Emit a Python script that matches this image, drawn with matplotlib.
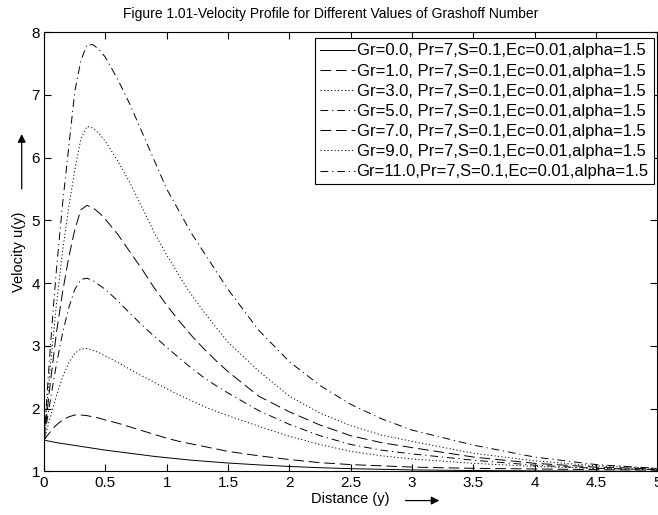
import matplotlib
matplotlib.use("Agg")
import matplotlib.pyplot as plt

plt.rcParams['font.family'] = ['Liberation Sans', 'DejaVu Sans']

# distance values (y)
dist = [0, 0.025, 0.05, 0.075, 0.1, 0.15, 0.2, 0.25, 0.3, 0.35, 0.4, 0.45, 0.5,
        0.6, 0.7, 0.8, 0.9, 1.0, 1.1, 1.2, 1.3, 1.4, 1.5, 1.75, 2.0, 2.25, 2.5,
        2.75, 3.0, 3.5, 4.0, 4.5, 5.0]

u_gr0 = [1.5, 1.49, 1.48, 1.47, 1.46, 1.445, 1.43, 1.415, 1.40, 1.385, 1.37, 1.355, 1.34,
         1.315, 1.29, 1.265, 1.24, 1.22, 1.2, 1.18, 1.165, 1.15, 1.135, 1.105, 1.08, 1.06, 1.045,
         1.035, 1.025, 1.015, 1.01, 1.005, 1.0]
u_gr1 = [1.5, 1.57, 1.63, 1.69, 1.74, 1.82, 1.87, 1.9, 1.9, 1.89, 1.87, 1.85, 1.82,
         1.77, 1.71, 1.65, 1.59, 1.53, 1.48, 1.44, 1.4, 1.36, 1.32, 1.25, 1.19, 1.14, 1.11,
         1.09, 1.07, 1.05, 1.04, 1.03, 1.02]
u_gr3 = [1.5, 1.68, 1.86, 2.03, 2.2, 2.5, 2.73, 2.88, 2.95, 2.96, 2.93, 2.89, 2.84,
         2.74, 2.63, 2.52, 2.42, 2.32, 2.22, 2.13, 2.04, 1.96, 1.89, 1.72, 1.56, 1.43, 1.32,
         1.25, 1.2, 1.13, 1.08, 1.05, 1.03]
u_gr5 = [1.5, 1.82, 2.12, 2.42, 2.7, 3.2, 3.6, 3.9, 4.06, 4.08, 4.04, 3.97, 3.9,
         3.72, 3.52, 3.33, 3.15, 2.98, 2.81, 2.65, 2.5, 2.37, 2.25, 1.97, 1.75, 1.57, 1.43,
         1.34, 1.28, 1.18, 1.1, 1.05, 1.03]
u_gr7 = [1.5, 1.95, 2.4, 2.8, 3.2, 3.85, 4.4, 4.85, 5.17, 5.24, 5.2, 5.12, 5.02,
         4.78, 4.5, 4.22, 3.92, 3.65, 3.4, 3.17, 2.96, 2.77, 2.59, 2.2, 1.95, 1.74, 1.57,
         1.46, 1.38, 1.23, 1.13, 1.07, 1.04]
u_gr9 = [1.5, 2.1, 2.65, 3.15, 3.65, 4.5, 5.2, 5.8, 6.3, 6.5, 6.47, 6.38, 6.26,
         5.95, 5.6, 5.2, 4.8, 4.45, 4.12, 3.82, 3.55, 3.3, 3.06, 2.6, 2.2, 1.93, 1.73,
         1.58, 1.48, 1.29, 1.17, 1.09, 1.05]
u_gr11 = [1.5, 2.25, 2.95, 3.6, 4.2, 5.25, 6.15, 7.05, 7.55, 7.8, 7.8, 7.72, 7.6,
          7.25, 6.85, 6.4, 5.95, 5.5, 5.15, 4.8, 4.5, 4.2, 3.9, 3.25, 2.75, 2.37, 2.07,
          1.84, 1.66, 1.42, 1.23, 1.11, 1.05]

labels = ['Gr=0.0, Pr=7,S=0.1,Ec=0.01,alpha=1.5',
          'Gr=1.0, Pr=7,S=0.1,Ec=0.01,alpha=1.5',
          'Gr=3.0, Pr=7,S=0.1,Ec=0.01,alpha=1.5',
          'Gr=5.0, Pr=7,S=0.1,Ec=0.01,alpha=1.5',
          'Gr=7.0, Pr=7,S=0.1,Ec=0.01,alpha=1.5',
          'Gr=9.0, Pr=7,S=0.1,Ec=0.01,alpha=1.5',
          'Gr=11.0,Pr=7,S=0.1,Ec=0.01,alpha=1.5']

series = [u_gr0, u_gr1, u_gr3, u_gr5, u_gr7, u_gr9, u_gr11]
styles = ['-', (0, (11, 5)), (0, (1.2, 2.4)), (0, (8, 4, 1.2, 4)),
          (0, (11, 5)), (0, (1.2, 2.4)), (0, (8, 4, 1.2, 4))]

fig = plt.figure(figsize=(6.58, 5.15), dpi=100)
ax = fig.add_axes([0.067, 0.0845, 0.932, 0.853])

for u, ls, lab in zip(series, styles, labels):
    ax.plot(dist, u, color='black', linestyle=ls, linewidth=0.7, label=lab)

ax.set_xlim(0, 5)
ax.set_ylim(1, 8)
ax.set_xticks([0, 0.5, 1, 1.5, 2, 2.5, 3, 3.5, 4, 4.5, 5])
ax.set_xticklabels(['0', '0.5', '1', '1.5', '2', '2.5', '3', '3.5', '4', '4.5', '5'])
ax.tick_params(direction='in', top=True, right=True, labelsize=11, length=5, pad=3)
for sp in ax.spines.values():
    sp.set_linewidth(0.8)

fig.text(0.503, 1 - 14 / 515, 'Figure 1.01-Velocity Profile for Different Values of Grashoff Number',
         fontsize=10, ha='center', va='center')
ax.set_xlabel('Distance (y)', fontsize=10.5, labelpad=2)
ax.set_ylabel('Velocity u(y)', fontsize=10.5, labelpad=4)

leg = ax.legend(loc='upper right', bbox_to_anchor=(0.994, 0.986), borderaxespad=0,
                fontsize=12, handlelength=2.1, handletextpad=0.1, labelspacing=0.31,
                borderpad=0.3, fancybox=False, framealpha=1, edgecolor='black')
leg.get_frame().set_linewidth(0.8)

# arrows next to the axis labels
ax.annotate('', xy=(0.672, 0.028), xytext=(0.612, 0.028), xycoords='figure fraction',
            arrowprops=dict(arrowstyle='-|>', color='black', lw=0.9, mutation_scale=12))
ax.annotate('', xy=(0.033, 0.745), xytext=(0.033, 0.628), xycoords='figure fraction',
            arrowprops=dict(arrowstyle='-|>', color='black', lw=0.9, mutation_scale=12))

fig.savefig('out.png', dpi=100)
